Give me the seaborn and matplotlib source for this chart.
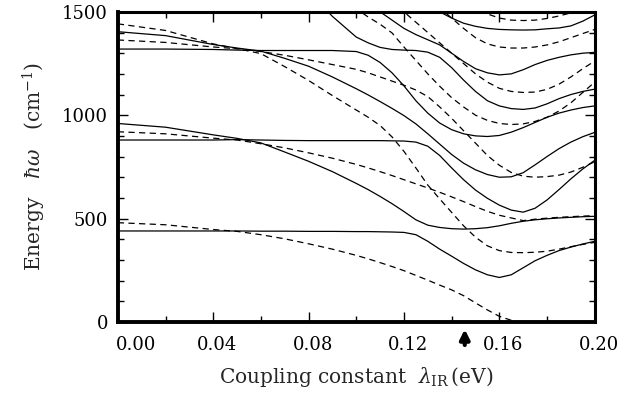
import numpy as np
import pandas as pd
import seaborn as sns
import matplotlib
matplotlib.use("Agg")
import matplotlib.pyplot as plt
from matplotlib.ticker import MultipleLocator, FormatStrFormatter
from matplotlib.transforms import ScaledTranslation

nan = np.nan

# coupling constant grid (eV)
LAM = [0.00, 0.02, 0.04, 0.05, 0.06, 0.07, 0.08, 0.09, 0.10, 0.105, 0.11, 0.115, 0.12, 0.125,
       0.13, 0.135, 0.14, 0.145, 0.15, 0.155, 0.16, 0.165, 0.17, 0.175, 0.18, 0.185, 0.19, 0.195, 0.20]

# solid levels (cm-1)
s1 = [440, 440, 440, 440, 439, 439, 438, 438, 437, 437, 436, 435, 433, 422,
      390, 352, 318, 283, 252, 228, 215, 228, 262, 296, 322, 345, 362, 377, 390]
s2 = [960, 942, 905, 888, 866, 822, 777, 727, 670, 640, 607, 572, 534, 494,
      468, 457, 451, 449, 451, 456, 465, 477, 487, 494, 499, 503, 506, 509, 511]
s3 = [880, 880, 880, 882, 880, 878, 877, 877, 877, 877, 877, 876, 875, 870,
      850, 805, 745, 688, 638, 598, 565, 541, 531, 550, 590, 640, 692, 740, 782]
s4 = [1404, 1385, 1342, 1325, 1310, 1275, 1237, 1185, 1128, 1098, 1066, 1033, 998, 958,
      910, 860, 810, 768, 736, 713, 700, 702, 722, 760, 800, 838, 870, 896, 917]
s5 = [1320, 1320, 1318, 1315, 1313, 1313, 1313, 1313, 1308, 1290, 1255, 1205, 1142, 1070,
      1010, 962, 930, 910, 900, 897, 902, 918, 940, 965, 990, 1010, 1025, 1037, 1045]
s6 = [nan, nan, nan, nan, nan, nan, 1600, 1478, 1378, 1350, 1328, 1318, 1315, 1313,
      1305, 1280, 1230, 1170, 1115, 1070, 1045, 1032, 1028, 1035, 1055, 1080, 1100, 1115, 1126]
s7 = [nan, nan, nan, nan, nan, nan, nan, 1700, 1590, 1545, 1500, 1460, 1420, 1390,
      1365, 1340, 1300, 1260, 1225, 1205, 1195, 1200, 1220, 1245, 1265, 1280, 1292, 1300, 1304]
s8 = [nan, nan, nan, nan, nan, nan, nan, nan, nan, nan, nan, nan, 1600, 1560,
      1530, 1500, 1470, 1445, 1430, 1420, 1415, 1413, 1412, 1413, 1418, 1422, 1432, 1455, 1485]

# dashed levels (cm-1)
d1 = [480, 470, 447, 438, 422, 402, 378, 352, 322, 305, 287, 268, 248, 225,
      202, 178, 155, 127, 92, 58, 27, 8, -5, -5, -5, -5, -5, -5, -5]
d2 = [920, 910, 889, 880, 862, 842, 818, 792, 762, 745, 727, 708, 688, 668,
      648, 627, 605, 582, 558, 535, 516, 503, 490, 497, 502, 506, 509, 512, 514]
d3 = [1364, 1352, 1330, 1322, 1308, 1290, 1268, 1245, 1222, 1205, 1185, 1165, 1145, 1122,
      1090, 1040, 985, 925, 865, 805, 758, 723, 705, 700, 703, 710, 725, 748, 775]
d4 = [1442, 1410, 1345, 1322, 1298, 1235, 1168, 1095, 1025, 990, 950, 895, 825, 745,
      662, 595, 530, 465, 410, 368, 345, 336, 335, 337, 342, 352, 364, 375, 385]
d5 = [nan, nan, nan, nan, nan, nan, nan, 1640, 1515, 1475, 1440, 1398, 1330, 1265,
      1200, 1140, 1085, 1040, 1000, 975, 960, 955, 958, 970, 990, 1020, 1060, 1110, 1160]
d6 = [nan, nan, nan, nan, nan, nan, nan, nan, nan, nan, 1620, 1560, 1500, 1450,
      1400, 1350, 1300, 1250, 1200, 1160, 1130, 1115, 1110, 1112, 1125, 1150, 1185, 1225, 1262]
d7 = [nan, nan, nan, nan, nan, nan, nan, nan, nan, nan, nan, nan, 1680, 1630,
      1580, 1520, 1470, 1420, 1375, 1345, 1330, 1325, 1325, 1330, 1340, 1355, 1375, 1395, 1415]
d8 = [nan, nan, nan, nan, nan, nan, nan, nan, nan, nan, nan, nan, nan, nan,
      nan, nan, 1600, 1555, 1520, 1490, 1470, 1460, 1458, 1460, 1468, 1480, 1495, 1515, 1535]

ARROW_AT = 0.1455

levels = [("s1", s1, "solid"), ("s2", s2, "solid"), ("s3", s3, "solid"), ("s4", s4, "solid"),
          ("s5", s5, "solid"), ("s6", s6, "solid"), ("s7", s7, "solid"), ("s8", s8, "solid"),
          ("d1", d1, "dashed"), ("d2", d2, "dashed"), ("d3", d3, "dashed"), ("d4", d4, "dashed"),
          ("d5", d5, "dashed"), ("d6", d6, "dashed"), ("d7", d7, "dashed"), ("d8", d8, "dashed")]

frames = []
for name, vals, kind in levels:
    frames.append(pd.DataFrame({"lam": LAM, "E": vals, "curve": name, "kind": kind}))
df = pd.concat(frames, ignore_index=True).dropna()

sns.set_theme(style="ticks")
plt.rcParams["font.family"] = ["DejaVu Serif"]
plt.rcParams["mathtext.fontset"] = "dejavuserif"

fig = plt.figure(figsize=(6.3, 3.95), dpi=100)
ax = fig.add_axes([0.187, 0.185, 0.757, 0.785])

sns.lineplot(data=df, x="lam", y="E", units="curve", style="kind", estimator=None,
             sort=False, color="black", linewidth=0.9,
             dashes={"solid": "", "dashed": (5, 3.5)}, legend=False, ax=ax)

ax.set_xlim(0, 0.2)
ax.set_ylim(0, 1500)
ax.set_xticks([0.0, 0.04, 0.08, 0.12, 0.16, 0.20])
ax.xaxis.set_minor_locator(MultipleLocator(0.02))
ax.set_yticks([0, 500, 1000, 1500])
ax.yaxis.set_minor_locator(MultipleLocator(100))
ax.xaxis.set_major_formatter(FormatStrFormatter("%.2f"))
ax.tick_params(which="both", direction="in", top=True, right=True, colors="black",
               labelsize=13)
ax.tick_params(which="major", length=7, width=1)
ax.tick_params(which="minor", length=4, width=1)
ax.tick_params(axis="x", pad=10)
ax.tick_params(axis="y", pad=7)

# shift x tick labels slightly to the right, the first one more
for i, lab in enumerate(ax.get_xticklabels()):
    dx = 18 if i == 0 else 4
    lab.set_transform(lab.get_transform() + ScaledTranslation(dx / 100, 0, fig.dpi_scale_trans))

for side in ["left", "bottom"]:
    ax.spines[side].set_linewidth(2.8)
for side in ["top", "right"]:
    ax.spines[side].set_linewidth(2.2)
for sp in ax.spines.values():
    sp.set_color("black")

ax.set_xlabel(r"Coupling constant  $\lambda_{\rm IR}\,$(eV)", fontsize=14.5, labelpad=8)
ax.set_ylabel(r"Energy   $\hbar\omega$   (cm$^{-1}$)", fontsize=14.5, labelpad=10)

ax.annotate("", xy=(ARROW_AT, -22), xytext=(ARROW_AT, -125),
            arrowprops=dict(arrowstyle="-|>", lw=3, color="black", mutation_scale=14),
            annotation_clip=False)

fig.savefig("out.png", dpi=100)
